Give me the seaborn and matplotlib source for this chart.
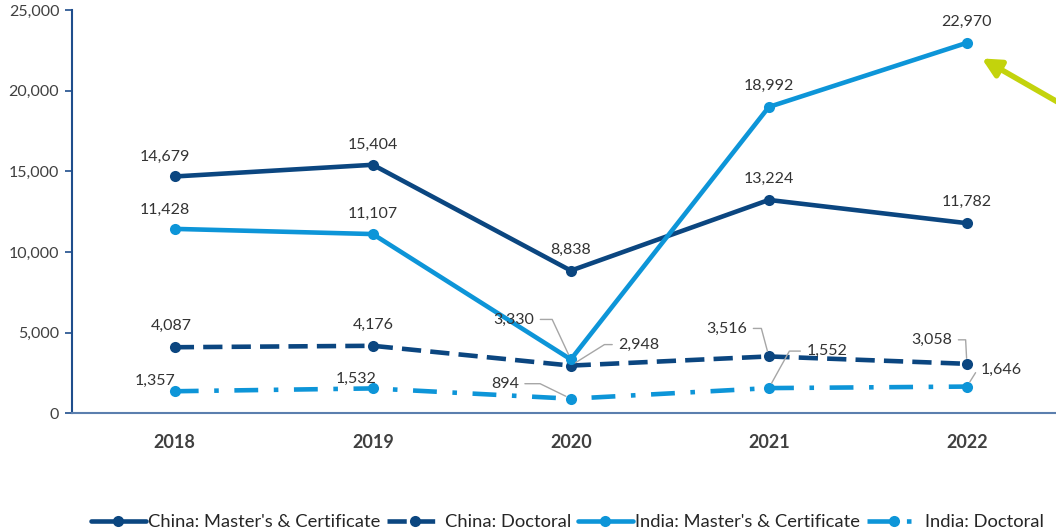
import matplotlib.pyplot as plt
import seaborn as sns
import pandas as pd

# values
years = ['2018', '2019', '2020', '2021', '2022']
china_masters = [14679, 15404, 8838, 13224, 11782]
china_doctoral = [4087, 4176, 2948, 3516, 3058]
india_masters = [11428, 11107, 3330, 18992, 22970]
india_doctoral = [1357, 1532, 894, 1552, 1646]
series_names = ["China: Master's & Certificate", "China: Doctoral",
                "India: Master's & Certificate", "India: Doctoral"]

DARK = '#0b4680'
LIGHT = '#0d95d8'

sns.set_style('white')
plt.rcParams['font.family'] = ['Lato', 'DejaVu Sans']

rows = []
for name, vals in zip(series_names, [china_masters, china_doctoral, india_masters, india_doctoral]):
    for i, v in enumerate(vals):
        rows.append({'pos': i, 'value': v, 'series': name})
df = pd.DataFrame(rows)

palette = {series_names[0]: DARK, series_names[1]: DARK,
           series_names[2]: LIGHT, series_names[3]: LIGHT}
dashes = {series_names[0]: '', series_names[1]: (4.2, 2.0),
          series_names[2]: '', series_names[3]: (5.2, 3.4, 1.0, 3.4)}

fig = plt.figure(figsize=(10.56, 5.31), dpi=100)
ax = fig.add_axes([0.068, 0.222, 0.932, 0.759])

sns.lineplot(data=df, x='pos', y='value', hue='series', style='series',
             palette=palette, dashes=dashes, markers={n: 'o' for n in series_names},
             markersize=8, linewidth=3.3, markeredgewidth=0, ax=ax)

# label offsets in pixels (dx, dy); leader angle (deg) or None when no leader line
label_offsets = {
    series_names[0]: [(-10, 20), (0, 20), (0, 21), (0, 21), (0, 21)],
    series_names[1]: [(-3, 21), (0, 21), (68, 21), (-42, 28), (-35, 24)],
    series_names[2]: [(-10, 19), (0, 20), (-57, 40), (0, 21), (0, 21)],
    series_names[3]: [(-20, 10), (-17, 10), (-66, 15), (58, 37), (34, 17)],
}
leader_angles = {
    series_names[0]: [None] * 5,
    series_names[1]: [None, None, 32, 105, 93],
    series_names[2]: [None, None, 115, None, None],
    series_names[3]: [None, None, 154, 61, 58],
}
for name, vals in zip(series_names, [china_masters, china_doctoral, india_masters, india_doctoral]):
    for i, v in enumerate(vals):
        dx, dy = label_offsets[name][i]
        kw = {}
        ang = leader_angles[name][i]
        if ang is not None:
            kw['arrowprops'] = dict(arrowstyle='-', color='#a6a6a6', lw=1.0,
                                    shrinkA=2, shrinkB=4,
                                    connectionstyle='angle,angleA=0,angleB=%d,rad=0' % ang)
        ax.annotate(f'{v:,}', xy=(i, v), xytext=(dx, dy), textcoords='offset pixels',
                    ha='center', va='center', fontsize=11.5, color='#333333', **kw)

# highlight arrow pointing at the 2022 India value
ax.annotate('', xy=(4.075, 22000), xytext=(4.6, 18300), annotation_clip=False,
            arrowprops=dict(arrowstyle='-|>,head_length=1.1,head_width=0.55',
                            color='#c3d30c', lw=4, shrinkA=0, shrinkB=0))

ax.set_xlim(-0.52, 4.45)
ax.set_ylim(0, 25000)
ax.set_xticks(range(len(years)))
ax.set_xticklabels(years, fontsize=13, fontweight='bold', color='#404040')
ax.set_yticks(range(0, 25001, 5000))
ax.set_yticklabels([f'{t:,}' for t in range(0, 25001, 5000)], fontsize=11.5, color='#404040')
ax.tick_params(axis='x', length=0, pad=15)
ax.tick_params(axis='y', length=5, width=1.2, color='#1f4e8c', direction='out', left=True, pad=4)
ax.set_xlabel('')
ax.set_ylabel('')
for side in ['top', 'right']:
    ax.spines[side].set_visible(False)
ax.spines['left'].set_color('#1f4e8c')
ax.spines['left'].set_linewidth(1.5)
ax.spines['bottom'].set_color('#5b7fae')
ax.spines['bottom'].set_linewidth(1.5)

sns.move_legend(ax, 'lower center', bbox_to_anchor=(0.537, -0.03),
                bbox_transform=fig.transFigure, ncol=4, frameon=False, title=None,
                fontsize=13.2, handlelength=3.0, columnspacing=0.35, handletextpad=0.15,
                labelcolor='#262626')

fig.savefig('out.png', dpi=100)
